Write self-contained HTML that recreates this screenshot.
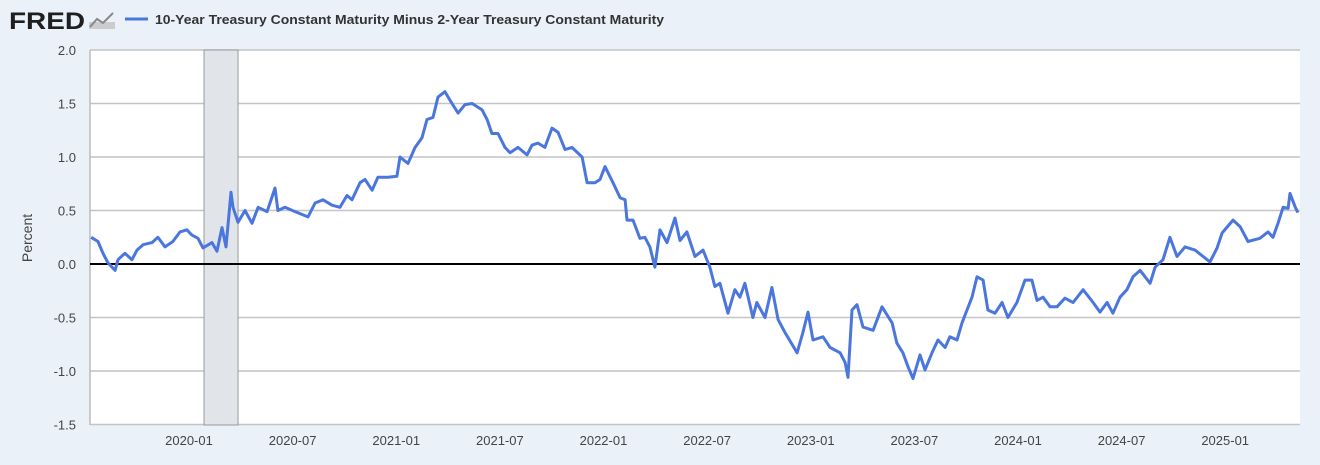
<!DOCTYPE html>
<html><head><meta charset="utf-8"><style>
body{margin:0;background:#eaf1f9;font-family:"Liberation Sans",sans-serif;}
svg{display:block}
</style></head><body>
<svg width="1320" height="465">
<rect width="1320" height="465" fill="#eaf1f9"/>
<g>
<text x="9" y="29" font-size="24" font-weight="bold" fill="#1f1f1f" textLength="76" lengthAdjust="spacingAndGlyphs">FRED</text>
<rect x="89" y="22" width="26" height="7" fill="#ccc"/>
<polyline points="90,27 97,19 103,23 113,13" fill="none" stroke="#888" stroke-width="2"/>
</g>
<g>
<line x1="125" y1="19" x2="148" y2="19" stroke="#4a76de" stroke-width="3"/>
<text x="155" y="24" font-size="13" font-weight="bold" fill="#333" textLength="509" lengthAdjust="spacingAndGlyphs">10-Year Treasury Constant Maturity Minus 2-Year Treasury Constant Maturity</text>
</g>
<rect x="90" y="50" width="1210" height="375" fill="#fff"/>
<g id="grid"></g>
<g id="rec"></g>
<g id="yt"></g>
<g id="xt"></g>
<path id="line" fill="none" stroke="#4a76de" stroke-width="3" stroke-linejoin="round"/>
<text transform="translate(32,238) rotate(-90)" text-anchor="middle" font-size="14" fill="#444">Percent</text>
</svg>
<script>
const months=[-5.67,-5.27,-4.98,-4.69,-4.28,-4.11,-3.71,-3.30,-3.01,-2.66,-2.14,-1.80,-1.39,-0.93,-0.52,-0.12,0.17,0.52,0.81,1.33,1.62,1.91,2.14,2.43,2.55,2.84,3.24,3.65,4.00,4.52,4.98,5.15,5.56,6.14,6.89,7.30,7.76,8.28,8.74,9.15,9.44,9.90,10.19,10.60,10.94,11.52,12.04,12.22,12.68,13.09,13.49,13.78,14.13,14.42,14.82,15.23,15.58,15.98,16.39,16.97,17.26,17.54,17.89,18.30,18.59,19.05,19.57,19.86,20.21,20.61,21.02,21.37,21.77,22.18,22.76,23.05,23.51,23.80,24.09,24.55,24.96,25.25,25.36,25.71,26.11,26.40,26.69,26.98,27.27,27.68,28.14,28.43,28.83,29.30,29.76,30.16,30.45,30.74,31.21,31.61,31.90,32.19,32.65,32.88,33.35,33.75,34.11,34.51,35.21,35.55,35.84,36.13,36.71,37.12,37.70,37.99,38.16,38.39,38.68,39.03,39.61,40.13,40.71,40.99,41.34,41.63,41.92,42.33,42.62,43.02,43.37,43.78,44.06,44.47,44.76,45.05,45.34,45.63,45.98,46.26,46.67,47.08,47.42,47.94,48.41,48.81,49.10,49.45,49.86,50.26,50.72,51.19,51.77,52.35,52.75,53.16,53.50,53.91,54.31,54.66,55.07,55.36,55.65,55.94,56.40,56.80,57.21,57.67,58.25,58.72,59.12,59.53,59.82,60.45,60.86,61.32,62.01,62.48,62.77,63.06,63.35,63.64,63.75,64.06,64.21];
const values=[0.25,0.21,0.10,0.01,-0.06,0.04,0.10,0.04,0.13,0.18,0.20,0.25,0.16,0.21,0.30,0.32,0.27,0.24,0.15,0.20,0.12,0.34,0.16,0.67,0.53,0.39,0.50,0.38,0.53,0.49,0.71,0.50,0.53,0.49,0.44,0.57,0.60,0.55,0.53,0.64,0.60,0.76,0.79,0.69,0.81,0.81,0.82,1.00,0.94,1.09,1.18,1.35,1.37,1.56,1.61,1.50,1.41,1.49,1.50,1.44,1.35,1.22,1.22,1.09,1.04,1.09,1.02,1.11,1.13,1.09,1.27,1.23,1.07,1.09,1.00,0.76,0.76,0.79,0.91,0.76,0.62,0.60,0.41,0.41,0.24,0.25,0.16,-0.03,0.32,0.20,0.43,0.22,0.30,0.07,0.13,-0.03,-0.21,-0.18,-0.46,-0.24,-0.31,-0.18,-0.50,-0.36,-0.50,-0.22,-0.52,-0.64,-0.83,-0.64,-0.45,-0.71,-0.68,-0.78,-0.83,-0.92,-1.06,-0.43,-0.38,-0.59,-0.62,-0.40,-0.55,-0.74,-0.83,-0.96,-1.07,-0.85,-0.99,-0.83,-0.71,-0.78,-0.68,-0.71,-0.55,-0.43,-0.31,-0.12,-0.15,-0.43,-0.46,-0.36,-0.50,-0.36,-0.15,-0.15,-0.34,-0.31,-0.40,-0.40,-0.32,-0.36,-0.24,-0.36,-0.45,-0.36,-0.46,-0.31,-0.24,-0.12,-0.06,-0.12,-0.18,-0.03,0.04,0.25,0.07,0.16,0.13,0.07,0.02,0.15,0.29,0.41,0.35,0.21,0.24,0.30,0.25,0.38,0.53,0.52,0.66,0.53,0.48];
const yTicks=[2.0,1.5,1.0,0.5,0.0,-0.5,-1.0,-1.5];
const xTickMonths=[0,6,12,18,24,30,36,42,48,54,60];
const xTickLabels=["2020-01","2020-07","2021-01","2021-07","2022-01","2022-07","2023-01","2023-07","2024-01","2024-07","2025-01"];
const recession=[0.87,2.84];
const NS="http://www.w3.org/2000/svg";
const X=m=>189+m*17.27, Y=v=>264-v*107;
function mk(tag,attrs,parent){const e=document.createElementNS(NS,tag);for(const k in attrs)e.setAttribute(k,attrs[k]);parent.appendChild(e);return e;}
const grid=document.getElementById('grid'),yt=document.getElementById('yt'),xt=document.getElementById('xt'),rec=document.getElementById('rec');
yTicks.forEach(v=>{
 if(v!==0){const l=mk('line',{x1:90,x2:1300,y1:Y(v),y2:Y(v),stroke:'#c4c4c4','stroke-width':1.5},grid);
 
 }
 const t=mk('text',{x:76,y:Y(v)+5,'text-anchor':'end','font-size':13,fill:'#444'},yt);
 t.textContent=v.toFixed(1);
 
 
});
const r=mk('rect',{x:X(recession[0]),y:50,width:X(recession[1])-X(recession[0]),height:375,fill:'#e1e5ea',stroke:'#999','stroke-width':1},rec);


const ax=mk('line',{x1:90,x2:90,y1:50,y2:425,stroke:'#bbb','stroke-width':1.5},rec);


const z=mk('line',{x1:90,x2:1300,y1:Y(0),y2:Y(0),stroke:'#000','stroke-width':2},rec);


xTickMonths.forEach((m,i)=>{
 const t=mk('text',{x:X(m),y:445,'text-anchor':'middle','font-size':13,fill:'#444'},xt);
 t.textContent=xTickLabels[i];
 
 
});
document.getElementById('line').setAttribute('d',months.map((m,i)=>(i?'L':'M')+X(m).toFixed(1)+' '+Y(values[i]).toFixed(1)).join(' '));
</script>
</body></html>
